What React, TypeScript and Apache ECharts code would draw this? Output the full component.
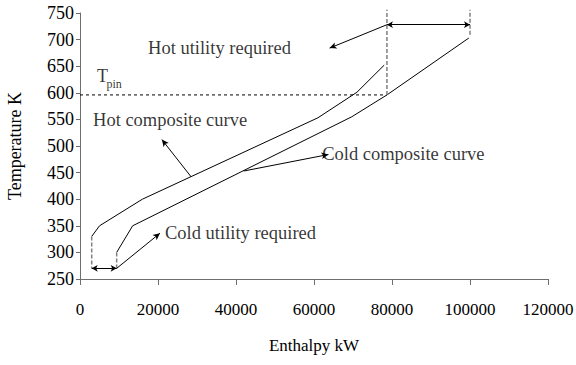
import React, { useEffect, useRef } from "react";
import * as echarts from "echarts";

// Composite curves (enthalpy kW, temperature K)
const hotCurve: number[][] = [[3000, 330], [5000, 350], [16000, 400], [61000, 553], [71000, 601], [78000, 652]];
const coldCurve: number[][] = [[9400, 300], [13500, 350], [69700, 555], [78700, 596], [99700, 703]];

// Pinch line
const pinchLine: number[][] = [[0, 596], [78700, 596]];

// Dashed guide segments
const guideSegments: number[][][] = [
  [[78700, 596], [78700, 756]],
  [[100000, 709], [100000, 756]],
  [[3000, 330], [3000, 270]],
  [[9400, 300], [9400, 270]],
];

// Double arrows (utility spans)
const doubleArrows: number[][][] = [
  [[78700, 728], [100000, 728]],
  [[3000, 270], [9400, 270]],
];

// Single arrows (from -> to)
const pointerArrows: number[][][] = [
  [[28500, 442], [21000, 512]],
  [[42000, 453], [63700, 484]],
  [[78700, 728], [64000, 684]],
  [[9400, 270], [20500, 336]],
];

// Annotation texts and anchor (left-middle) coordinates
const annotationTexts: string[] = ["Hot utility required", "Hot composite curve", "Cold composite curve", "Cold utility required", "T", "pin"];
const annotationAnchors: number[][] = [[17450, 684], [3340, 548], [62090, 485], [21800, 336], [4360, 631], [6800, 616]];
const annotationSizes: number[] = [18.5, 18.5, 18.5, 18.5, 18, 12];

const xTicks = { min: 0, max: 120000, interval: 20000 };
const yTicks = { min: 250, max: 750, interval: 50 };

const FONT = "Liberation Serif";

export default function App() {
  const ref = useRef<HTMLDivElement>(null);
  useEffect(() => {
    if (!ref.current) return;
    const chart = echarts.init(ref.current, undefined, { renderer: "svg" });
    const blackLine = { color: "#000", width: 1 };
    const series: any[] = [
      {
        type: "line",
        data: hotCurve,
        symbol: "none",
        lineStyle: blackLine,
        itemStyle: { color: "#000" },
        markLine: {
          silent: true,
          animation: false,
          symbolSize: [6, 8],
          label: { show: false },
          lineStyle: { color: "#000", width: 1, type: "solid" },
          data: [
            ...doubleArrows.map((s) => [
              { coord: s[0], symbol: "arrow", symbolSize: [5, 6] },
              { coord: s[1], symbol: "arrow", symbolSize: [5, 6] },
            ]),
            ...pointerArrows.map((s) => [
              { coord: s[0], symbol: "none" },
              { coord: s[1], symbol: "arrow", symbolSize: [5, 7] },
            ]),
          ],
        },
      },
      {
        type: "line",
        data: coldCurve,
        symbol: "none",
        lineStyle: blackLine,
        itemStyle: { color: "#000" },
      },
      {
        type: "line",
        data: pinchLine,
        symbol: "none",
        lineStyle: { color: "#000", width: 1, type: [3, 3] },
      },
      ...guideSegments.map((seg) => ({
        type: "line",
        data: seg,
        symbol: "none",
        clip: false,
        lineStyle: { color: "#808080", width: 1.5, type: [4, 2] },
      })),
      {
        type: "scatter",
        symbolSize: 0,
        clip: false,
        silent: true,
        data: annotationTexts.map((t, i) => ({
          value: annotationAnchors[i],
          label: {
            show: true,
            formatter: t,
            position: "right",
            distance: 0,
            color: "#000",
            fontFamily: FONT,
            fontSize: annotationSizes[i],
          },
        })),
      },
    ];
    chart.setOption({
      animation: false,
      textStyle: { fontFamily: FONT },
      grid: { left: 80, right: 28, top: 13, bottom: 86, containLabel: false, outerBoundsMode: "none" },
      xAxis: {
        type: "value",
        min: xTicks.min,
        max: xTicks.max,
        interval: xTicks.interval,
        name: "Enthalpy kW",
        nameLocation: "middle",
        nameGap: 58,
        nameTextStyle: { color: "#000", fontFamily: FONT, fontSize: 17 },
        axisLine: { show: true, onZero: false, lineStyle: { color: "#6e6e6e", width: 1 } },
        axisTick: { show: true, length: 6, lineStyle: { color: "#6e6e6e" } },
        axisLabel: { color: "#000", fontFamily: FONT, fontSize: 17, margin: 22, formatter: (v: number) => String(v) },
        splitLine: { show: false },
      },
      yAxis: {
        type: "value",
        min: yTicks.min,
        max: yTicks.max,
        interval: yTicks.interval,
        name: "Temperature K",
        nameLocation: "middle",
        nameGap: 56,
        nameTextStyle: { color: "#000", fontFamily: FONT, fontSize: 18 },
        axisLine: { show: true, onZero: false, lineStyle: { color: "#6e6e6e", width: 1 } },
        axisTick: { show: true, length: 4, lineStyle: { color: "#6e6e6e" } },
        axisLabel: { color: "#000", fontFamily: FONT, fontSize: 18, margin: 6, formatter: (v: number) => String(v) },
        splitLine: { show: false },
      },
      series,
    });
    return () => chart.dispose();
  }, []);
  return <div ref={ref} style={{ width: 576, height: 365, position: "absolute", left: 0, top: 0 }} />;
}
